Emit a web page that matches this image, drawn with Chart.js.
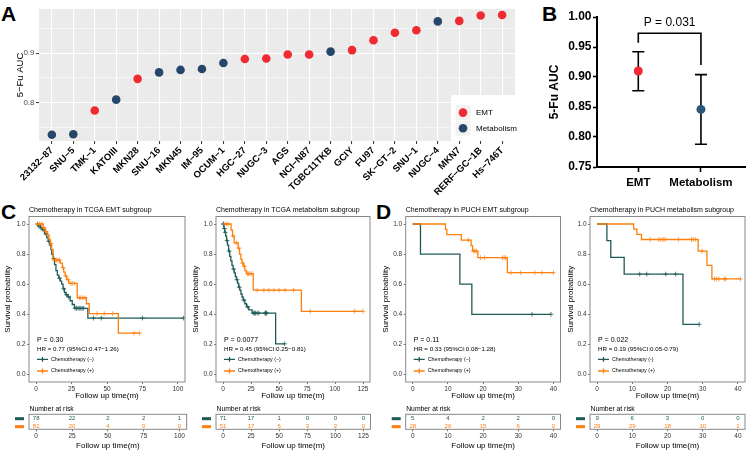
<!DOCTYPE html>
<html><head><meta charset="utf-8">
<script src="https://cdn.jsdelivr.net/npm/chart.js@4.4.1/dist/chart.umd.min.js"></script>
<style>
html,body{margin:0;padding:0;background:#fff}
body{width:750px;height:454px;position:relative;overflow:hidden;font-family:"Liberation Sans",Arial,sans-serif}
canvas{position:absolute}
.pl{position:absolute;font-weight:bold;font-size:21px;line-height:21px;color:#000}
</style></head><body>
<div class="pl" style="left:1px;top:2.5px">A</div>
<div class="pl" style="left:542px;top:2.5px">B</div>
<div class="pl" style="left:1px;top:200.5px">C</div>
<div class="pl" style="left:376px;top:200.5px">D</div>
<script>
// ================= DATA =================
// Panel A
const aCellLines = ['23132−87','SNU−5','TMK−1','KATOIII','MKN28','SNU−16','MKN45','IM−95','OCUM−1','HGC−27','NUGC−3','AGS','NCI−N87','TGBC11TKB','GCIY','FU97','SK−GT−2','SNU−1','NUGC−4','MKN7','RERF−GC−1B','Hs−746T'];
const aAUC = [0.735,0.736,0.784,0.806,0.848,0.861,0.866,0.868,0.880,0.888,0.889,0.897,0.897,0.903,0.906,0.926,0.941,0.946,0.964,0.965,0.976,0.977];
const aGroup = ['Metabolism','Metabolism','EMT','Metabolism','EMT','Metabolism','Metabolism','Metabolism','Metabolism','EMT','EMT','EMT','EMT','Metabolism','EMT','EMT','EMT','EMT','Metabolism','EMT','EMT','EMT'];
const aGroupNames = ['EMT','Metabolism'];
const aYTicks = [0.75,0.80,0.85,0.90,0.95];
const aYLabeled = [0.8,0.9];

// Panel B
const bGroups = ['EMT','Metabolism'];
const bMean = [0.910,0.846];
const bLow = [0.877,0.788];
const bHigh = [0.942,0.904];
const bYTicks = [0.75,0.80,0.85,0.90,0.95,1.00];
const bBracketTop = 0.973;
const bBracketEnds = [0.957,0.920];
const bPText = 'P = 0.031';

// Panel C (TCGA) - EMT subgroup
const cEmtNegTime = [0,1.5,3,4.5,6,7.5,8.5,9.5,10.5,11,12,13,14,15,16,17,18,19,20,21,22.5,24,25.5,27,36.5,104];
const cEmtNegSurv = [1,0.987,0.974,0.961,0.935,0.91,0.885,0.86,0.83,0.80,0.77,0.73,0.69,0.66,0.64,0.62,0.60,0.57,0.545,0.53,0.515,0.49,0.465,0.44,0.375,0.375];
const cEmtNegCens = [1,2,3.5,5,7,9,12.5,16.5,19.5,21.5,23,27.5,28.5,29.5,30.5,31.5,32.5,33.5,40.5,46,75,104];
const cEmtPosTime = [0,5,6.5,8,9,10,11,12,17,18.5,19.5,20.5,21.5,23,29,35.5,37.5,58,73];
const cEmtPosSurv = [1,0.975,0.95,0.925,0.90,0.87,0.83,0.76,0.74,0.71,0.68,0.655,0.63,0.605,0.51,0.47,0.405,0.275,0.275];
const cEmtPosCens = [1,2.5,4,5.5,7,8.5,10.5,13.5,14.5,15.5,16.5,19,21,22.5,24.5,25.5,27,30.5,31.5,33,34.5,43,48,54,69,73];
const cEmtRiskTimes = [0,25,50,75,100];
const cEmtRiskNeg = [78,22,2,2,1];
const cEmtRiskPos = [81,20,4,0,0];
// Panel C (TCGA) - metabolism subgroup
const cMetNegTime = [0,0.8,1.6,2.4,3.2,4,5,6,7,8,9,10,11,12,13,14,15,16,17,18,19.5,21,23,26,47,55];
const cMetNegSurv = [1,0.97,0.945,0.92,0.89,0.86,0.82,0.785,0.755,0.725,0.70,0.675,0.65,0.63,0.605,0.58,0.56,0.535,0.515,0.495,0.47,0.45,0.43,0.408,0.204,0.204];
const cMetNegCens = [0.3,0.6,1.3,2,3.6,5.5,9.5,12.5,14.5,18.5,22,27,28,29,30.5,32,37.5,38,38.5,39,55];
const cMetPosTime = [0,7.2,8.5,10,13.5,14.8,16,17,18.2,19.5,21,27,70,125];
const cMetPosSurv = [1,0.96,0.92,0.875,0.84,0.80,0.765,0.74,0.72,0.69,0.67,0.56,0.42,0.42];
const cMetPosCens = [3,4.5,9,12,14,17.5,19,22,23,24,25.5,30.5,36.5,41,45.5,50,55.5,63,78,117.5,125];
const cMetRiskTimes = [0,25,50,75,100,125];
const cMetRiskNeg = [71,17,1,0,0,0];
const cMetRiskPos = [51,17,6,3,2,0];
// Panel D (PUCH) - EMT subgroup
const dEmtNegTime = [0,2.2,13.4,16.8,39.3];
const dEmtNegSurv = [1,0.8,0.6,0.4,0.4];
const dEmtNegCens = [33.9,39.3];
const dEmtPosTime = [0,9.3,9.7,13.8,16.6,17,18.5,26.9,40];
const dEmtPosSurv = [1,0.964,0.929,0.893,0.857,0.82,0.776,0.677,0.677];
const dEmtPosCens = [15.8,17.3,17.7,18.1,19.3,20.4,25.5,26,26.4,27.9,30.7,34.7,36.7,40];
const dEmtRiskTimes = [0,10,20,30,40];
const dEmtRiskNeg = [5,4,2,2,0];
const dEmtRiskPos = [28,26,15,6,0];
// Panel D (PUCH) - metabolism subgroup
const dMetNegTime = [0,2.8,3.9,7.7,24.4,29];
const dMetNegSurv = [1,0.889,0.778,0.667,0.333,0.333];
const dMetNegCens = [12.1,14.1,19.5,22.3,29];
const dMetPosTime = [0,10.4,11.3,12.6,28.7,31.2,32.6,40.7];
const dMetPosSurv = [1,0.966,0.931,0.897,0.82,0.725,0.635,0.635];
const dMetPosCens = [15.1,17.5,18.1,18.8,19.3,23.1,26.8,27.3,27.9,29.8,33.3,33.9,34.6,36.1,36.5,40.7];
const dMetRiskTimes = [0,10,20,30,40];
const dMetRiskNeg = [9,6,3,0,0];
const dMetRiskPos = [29,29,18,10,1];

const kmYTicks = [0,0.2,0.4,0.6,0.8,1.0];

// ================= STYLE =================
const FF = '"Liberation Sans", Arial, Helvetica, sans-serif';
Chart.defaults.font.family = FF;
Chart.defaults.color = '#000';
const RED = '#EF2A31', NAVY_A = '#26476A', NAVY_B = '#2C5779';
const GREEN = '#1E5B57', GREEN_A = 'rgba(30,91,87,0.75)';
const ORANGE = '#FF7F0E', ORANGE_A = 'rgba(255,127,14,0.7)';

function addCanvas(x,y,w,h){
  const c=document.createElement('canvas');
  c.width=w;c.height=h;
  c.style.left=x+'px';c.style.top=y+'px';c.style.width=w+'px';c.style.height=h+'px';
  document.body.appendChild(c);return c;
}
function survAt(time,surv,t){let s=surv[0];for(let i=0;i<time.length;i++){if(time[i]<=t+1e-9)s=surv[i];}return s;}
const baseOpts = {responsive:false,devicePixelRatio:1,animation:false,plugins:{legend:{display:false},tooltip:{enabled:false}}};

// ================= PANEL A =================
(function(){
  const cx=0,cy=0,cw=530,ch=200;
  const area={l:39,t:9,r:515,b:141};
  const ds=aGroupNames.map((g,gi)=>({
    label:g,
    data:aAUC.map((v,i)=>aGroup[i]===g?{x:i,y:v}:null).filter(Boolean),
    backgroundColor:gi?NAVY_A:RED,pointBackgroundColor:gi?NAVY_A:RED,
    pointRadius:4.3,pointBorderWidth:0,borderWidth:0,showLine:false
  }));
  const isMajor=v=>aYLabeled.some(m=>Math.abs(m-v)<1e-6);
  const bg={id:'aBg',beforeDraw(c){const {ctx,chartArea:a}=c;ctx.save();ctx.fillStyle='#EBEBEB';ctx.fillRect(a.left,a.top,a.width,a.height);ctx.restore();}};
  const leg={id:'aLeg',afterDraw(c){
    const {ctx,chartArea:a}=c;const w=68,h=46;const x0=a.right-w+4,y0=a.bottom-h;
    ctx.save();ctx.fillStyle='#fff';ctx.fillRect(x0,y0,w,h);
    c.data.datasets.forEach((d,i)=>{
      const ky=y0+10+i*15.6;
      ctx.fillStyle='#F2F2F2';ctx.fillRect(x0+4.5,ky,15,15);
      ctx.fillStyle=d.backgroundColor;ctx.beginPath();ctx.arc(x0+12,ky+7.6,4.3,0,Math.PI*2);ctx.fill();
      ctx.fillStyle='#000';ctx.font='8px '+FF;ctx.textBaseline='middle';ctx.textAlign='left';
      ctx.fillText(d.label,x0+25,ky+7.8);
    });
    ctx.restore();
  }};
  new Chart(addCanvas(cx,cy,cw,ch),{type:'scatter',data:{datasets:ds},options:{...baseOpts,
    layout:{padding:{left:0,top:area.t-cy,right:cx+cw-area.r,bottom:0}},
    scales:{
      x:{type:'linear',min:-0.6,max:aCellLines.length-1+0.6,
        afterBuildTicks:s=>{s.ticks=aCellLines.map((_,i)=>({value:i}));},
        afterFit:s=>{s.height=cy+ch-area.b;s.paddingLeft=0;s.paddingRight=0;},
        grid:{color:'#fff',lineWidth:1.1,tickLength:3,tickColor:'#333',tickWidth:1},
        border:{display:false},
        ticks:{autoSkip:false,minRotation:45,maxRotation:45,padding:1,font:{size:9.5,weight:'bold'},color:'#000',callback:v=>aCellLines[v]}},
      y:{type:'linear',min:0.7225,max:0.989,
        afterBuildTicks:s=>{s.ticks=aYTicks.map(v=>({value:v}));},
        afterFit:s=>{s.width=area.l-cx;s.paddingTop=0;s.paddingBottom=0;},
        grid:{color:'#fff',lineWidth:c=>isMajor(c.tick.value)?1.1:0.55,tickLength:3,tickColor:c=>isMajor(c.tick.value)?'#333':'rgba(0,0,0,0)',tickWidth:1},
        border:{display:false},
        ticks:{padding:1.5,font:{size:8},color:'#4D4D4D',callback:v=>isMajor(v)?v.toFixed(1):''},
        title:{display:true,text:'5−Fu AUC',font:{size:9.5},color:'#000',padding:{top:14.5,bottom:0}}}
    }},plugins:[bg,leg]});
})();

// ================= PANEL B =================
(function(){
  const cx=535,cy=0,cw=215,ch=200;
  const area={l:597,t:17,r:748,b:167};
  const deco={id:'bDeco',
    beforeDatasetsDraw(c){
      const {ctx}=c;const xs=c.scales.x,ys=c.scales.y;
      ctx.save();ctx.strokeStyle='#000';ctx.lineWidth=1.6;
      bMean.forEach((m,i)=>{
        const x=xs.getPixelForValue(i+1),yl=ys.getPixelForValue(bLow[i]),yh=ys.getPixelForValue(bHigh[i]);
        ctx.beginPath();ctx.moveTo(x,yl);ctx.lineTo(x,yh);
        ctx.moveTo(x-6,yl);ctx.lineTo(x+6,yl);ctx.moveTo(x-6,yh);ctx.lineTo(x+6,yh);ctx.stroke();
      });
      ctx.restore();
    },
    afterDraw(c){
      const {ctx}=c;const xs=c.scales.x,ys=c.scales.y;
      const x1=xs.getPixelForValue(1),x2=xs.getPixelForValue(2),yt=ys.getPixelForValue(bBracketTop);
      ctx.save();ctx.strokeStyle='#000';ctx.lineWidth=1.6;
      ctx.beginPath();ctx.moveTo(x1,ys.getPixelForValue(bBracketEnds[0]));ctx.lineTo(x1,yt);ctx.lineTo(x2,yt);ctx.lineTo(x2,ys.getPixelForValue(bBracketEnds[1]));ctx.stroke();
      ctx.fillStyle='#000';ctx.font='12px '+FF;ctx.textAlign='center';ctx.textBaseline='middle';
      ctx.fillText(bPText,(x1+x2)/2,yt-11);
      ctx.restore();
    }};
  new Chart(addCanvas(cx,cy,cw,ch),{type:'scatter',data:{datasets:[{
      data:bMean.map((m,i)=>({x:i+1,y:m})),pointRadius:4.5,pointBorderWidth:0,
      pointBackgroundColor:[RED,NAVY_B],backgroundColor:[RED,NAVY_B]}]},
    options:{...baseOpts,
      layout:{padding:{left:0,top:area.t-cy,right:cx+cw-area.r,bottom:0}},
      scales:{
        x:{type:'linear',min:0.341,max:2.711,
          afterBuildTicks:s=>{s.ticks=bGroups.map((_,i)=>({value:i+1}));},
          afterFit:s=>{s.height=cy+ch-area.b;s.paddingLeft=0;s.paddingRight=0;},
          grid:{drawOnChartArea:false,tickLength:5,tickWidth:1.6,tickColor:'#000'},
          border:{display:true,color:'#000',width:2},
          ticks:{padding:4,autoSkip:false,maxRotation:0,font:{size:11.5,weight:'bold'},color:'#000',callback:v=>bGroups[v-1]}},
        y:{type:'linear',min:0.75,max:1.0,
          afterBuildTicks:s=>{s.ticks=bYTicks.map(v=>({value:v}));},
          afterFit:s=>{s.width=area.l-cx;s.paddingTop=0;s.paddingBottom=0;},
          grid:{drawOnChartArea:false,tickLength:4,tickWidth:1.6,tickColor:'#000'},
          border:{display:true,color:'#000',width:2},
          ticks:{padding:1.5,font:{size:12,weight:'bold'},color:'#000',callback:v=>v.toFixed(2)},
          title:{display:true,text:'5-Fu AUC',font:{size:12,weight:'bold'},color:'#000',padding:{top:12.8,bottom:0}}}
      }},plugins:[deco]});
})();

// ================= KM PANELS =================
function kmChart(spec){
  const {cx,cy,cw,ch,frame:f}=spec;
  const ds=[];
  spec.curves.forEach((cu,k)=>{
    const base=(spec.curves.length-k)*2;
    ds.push({type:'line',label:cu.label,data:cu.time.map((t,i)=>({x:t,y:cu.surv[i]})),stepped:true,
      borderColor:cu.color,borderWidth:1.3,pointRadius:0,fill:false,order:base});
    ds.push({type:'scatter',label:cu.label+' censor',data:cu.cens.map(t=>({x:t,y:survAt(cu.time,cu.surv,t)})),
      pointStyle:'cross',pointRadius:2.4,pointBorderColor:cu.colorA,pointBorderWidth:1,borderColor:cu.colorA,showLine:false,order:base-1});
  });
  const deco={id:'kmDeco',afterDraw(c){
    const {ctx,chartArea:a}=c;ctx.save();
    ctx.strokeStyle='#888';ctx.lineWidth=1;ctx.strokeRect(a.left,a.top,a.width,a.height);
    ctx.fillStyle='#000';ctx.textBaseline='middle';ctx.textAlign='left';
    ctx.font='7px '+FF;ctx.fillText(spec.title,a.left,a.top-6);
    ctx.font='7px '+FF;ctx.fillText(spec.pText,a.left+8,a.bottom-41.5);
    ctx.font='6.2px '+FF;ctx.fillText(spec.hrText,a.left+8,a.bottom-32.5);
    spec.curves.forEach((cu,i)=>{
      const y=a.bottom-22.7+i*11.7;
      ctx.strokeStyle=cu.color;ctx.lineWidth=1.3;
      ctx.beginPath();ctx.moveTo(a.left+8,y);ctx.lineTo(a.left+19,y);ctx.moveTo(a.left+13.5,y-2.4);ctx.lineTo(a.left+13.5,y+2.4);ctx.stroke();
      ctx.fillStyle='#000';ctx.font='5.3px '+FF;ctx.fillText(cu.label,a.left+22,y);
    });
    ctx.restore();
  }};
  new Chart(addCanvas(cx,cy,cw,ch),{type:'line',data:{datasets:ds},options:{...baseOpts,
    layout:{padding:{left:0,top:f.t-cy,right:cx+cw-f.r,bottom:0}},
    scales:{
      x:{type:'linear',min:spec.xMin,max:spec.xMax,
        afterBuildTicks:s=>{s.ticks=spec.xTicks.map(v=>({value:v}));},
        afterFit:s=>{s.height=cy+ch-f.b;s.paddingLeft=0;s.paddingRight=0;},
        grid:{drawOnChartArea:false,tickLength:2,tickColor:'#555',tickWidth:0.8},
        border:{display:false},
        ticks:{padding:1,maxRotation:0,autoSkip:false,font:{size:6.5},color:'#333'},
        title:{display:true,text:'Follow up time(m)',font:{size:8},color:'#000',padding:{top:0,bottom:2.7}}},
      y:{type:'linear',min:-0.05,max:1.05,
        afterBuildTicks:s=>{s.ticks=kmYTicks.map(v=>({value:v}));},
        afterFit:s=>{s.width=f.l-cx;s.paddingTop=0;s.paddingBottom=0;},
        grid:{drawOnChartArea:false,tickLength:2,tickColor:'#555',tickWidth:0.8},
        border:{display:false},
        ticks:{padding:1.5,font:{size:6.5},color:'#333',callback:v=>v.toFixed(1)},
        title:{display:true,text:'Survival probability',font:{size:8},color:'#000',padding:{top:spec.yTitlePad,bottom:0}}}
    }},plugins:[deco]});
}

function riskChart(spec){
  const {cx,cw,frame:f}=spec;const cy=403,ch=51;const boxT=414.3,boxB=429.3;
  const deco={id:'riskDeco',afterDraw(c){
    const {ctx,chartArea:a}=c;const xs=c.scales.x,ys=c.scales.y;ctx.save();
    ctx.strokeStyle='#888';ctx.lineWidth=1;ctx.strokeRect(a.left,a.top,a.width,a.height);
    ctx.fillStyle='#000';ctx.font='6.8px '+FF;ctx.textAlign='left';ctx.textBaseline='middle';
    ctx.fillText('Number at risk',a.left+0.5,a.top-5.3);
    spec.rows.forEach((r,ri)=>{
      const y=ys.getPixelForValue(1-ri);
      ctx.fillStyle=r.color;ctx.fillRect(a.left-14,y-1.5,9,3);
      ctx.font='6px '+FF;ctx.textAlign='center';
      spec.times.forEach((t,i)=>{ctx.fillText(String(r.values[i]),xs.getPixelForValue(t),y);});
    });
    ctx.restore();
  }};
  new Chart(addCanvas(cx,cy,cw,ch),{type:'scatter',data:{datasets:[]},options:{...baseOpts,
    layout:{padding:{left:f.l-cx,top:boxT-cy,right:cx+cw-f.r,bottom:0}},
    scales:{
      x:{type:'linear',min:spec.xMin,max:spec.xMax,
        afterBuildTicks:s=>{s.ticks=spec.times.map(v=>({value:v}));},
        afterFit:s=>{s.height=cy+ch-boxB;s.paddingLeft=0;s.paddingRight=0;},
        grid:{drawOnChartArea:false,tickLength:2,tickColor:'#555',tickWidth:0.8},
        border:{display:false},
        ticks:{padding:1.5,maxRotation:0,autoSkip:false,font:{size:6.5},color:'#333'},
        title:{display:true,text:'Follow up time(m)',font:{size:8},color:'#000',padding:{top:0,bottom:3.2}}},
      y:{type:'linear',display:false,min:-0.33,max:1.55}
    }},plugins:[deco]});
}

function curvePair(negT,negS,negC,posT,posS,posC,negLabel){
  return [
    {label:negLabel||'Chemotherapy (−)',time:negT,surv:negS,cens:negC,color:GREEN,colorA:GREEN_A},
    {label:'Chemotherapy (+)',time:posT,surv:posS,cens:posC,color:ORANGE,colorA:ORANGE_A}
  ];
}

const kmSpecs=[
  {cx:0,cy:200,cw:190,ch:203,frame:{l:29,t:216.5,r:186.7,b:382},xMin:-5,xMax:105,xTicks:cEmtRiskTimes,yTitlePad:3.2,
   title:'Chemotherapy in TCGA EMT subgroup',pText:'P = 0.30',hrText:'HR = 0.77 (95%CI:0.47−1.26)',
   curves:curvePair(cEmtNegTime,cEmtNegSurv,cEmtNegCens,cEmtPosTime,cEmtPosSurv,cEmtPosCens),
   risk:{times:cEmtRiskTimes,neg:cEmtRiskNeg,pos:cEmtRiskPos}},
  {cx:187,cy:200,cw:188,ch:203,frame:{l:216,t:216.5,r:370.5,b:382},xMin:-6.25,xMax:131.25,xTicks:cMetRiskTimes,yTitlePad:3.9,
   title:'Chemotherapy in TCGA metabolism subgroup',pText:'P = 0.0077',hrText:'HR = 0.45 (95%CI:0.25−0.81)',
   curves:curvePair(cMetNegTime,cMetNegSurv,cMetNegCens,cMetPosTime,cMetPosSurv,cMetPosCens),
   risk:{times:cMetRiskTimes,neg:cMetRiskNeg,pos:cMetRiskPos}},
  {cx:376,cy:200,cw:190,ch:203,frame:{l:405.7,t:216.5,r:560.5,b:382},xMin:-2,xMax:42,xTicks:dEmtRiskTimes,yTitlePad:4.9,
   title:'Chemotherapy in PUCH EMT subgroup',pText:'P = 0.11',hrText:'HR = 0.33 (95%CI:0.08−1.28)',
   curves:curvePair(dEmtNegTime,dEmtNegSurv,dEmtNegCens,dEmtPosTime,dEmtPosSurv,dEmtPosCens),
   risk:{times:dEmtRiskTimes,neg:dEmtRiskNeg,pos:dEmtRiskPos}},
  {cx:561,cy:200,cw:189,ch:203,frame:{l:590,t:216.5,r:745,b:382},xMin:-2,xMax:42,xTicks:dMetRiskTimes,yTitlePad:5,
   title:'Chemotherapy in PUCH metabolism subgroup',pText:'P = 0.022',hrText:'HR = 0.19 (95%CI:0.05-0.79)',
   curves:curvePair(dMetNegTime,dMetNegSurv,dMetNegCens,dMetPosTime,dMetPosSurv,dMetPosCens,'Chemotherapy (-)'),
   risk:{times:dMetRiskTimes,neg:dMetRiskNeg,pos:dMetRiskPos}}
];
kmSpecs.forEach(s=>{
  kmChart(s);
  riskChart({cx:s.cx,cw:s.cw,frame:s.frame,xMin:s.xMin,xMax:s.xMax,times:s.risk.times,
    rows:[{values:s.risk.neg,color:GREEN},{values:s.risk.pos,color:ORANGE}]});
});
</script>
</body></html>
